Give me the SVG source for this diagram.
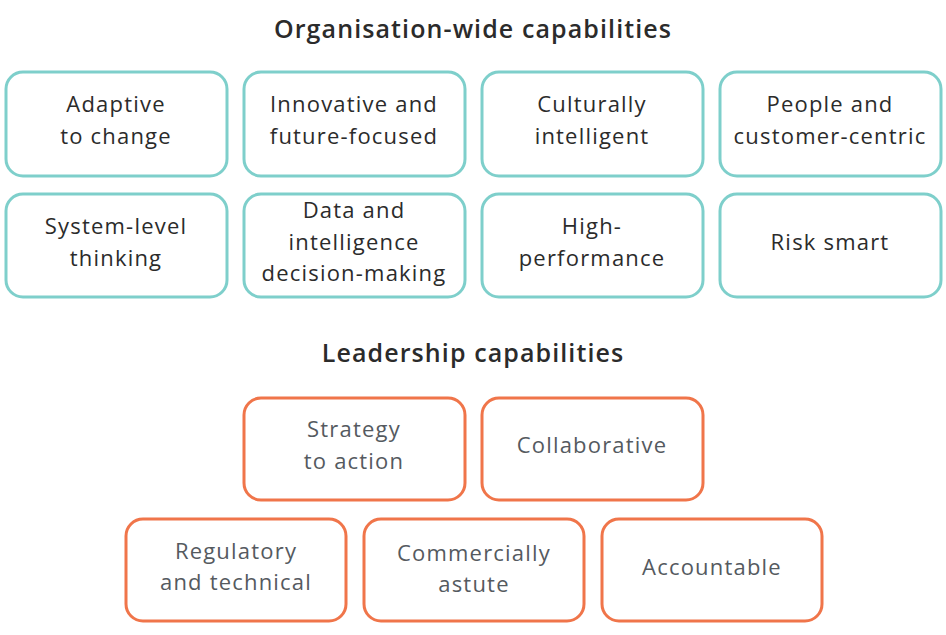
<svg xmlns="http://www.w3.org/2000/svg" width="946" height="635" viewBox="0 0 946 635">
<style>
.t{font-family:"Open Sans","Liberation Sans",sans-serif;font-size:22px;letter-spacing:1.2px;text-anchor:middle}
.h{font-family:"Open Sans","Liberation Sans",sans-serif;font-size:25px;letter-spacing:1.1px;font-weight:600;fill:#2b2b2b;text-anchor:middle}
.org rect{fill:#fff;stroke:#7ECFCB;stroke-width:3}
.org text{fill:#2b2b2b}
.lead rect{fill:#fff;stroke:#F0754A;stroke-width:3}
.lead text{fill:#555a5f}
</style>
<rect width="946" height="635" fill="#fff"/>
<text class="h" x="473" y="38">Organisation-wide capabilities</text>
<text class="h" x="473" y="362">Leadership capabilities</text>
<g class="org">
<g id="n1"><rect x="6" y="72" width="221" height="104" rx="17"/><text class="t" x="116" y="112">Adaptive</text><text class="t" x="116" y="144">to change</text></g>
<g id="n2"><rect x="244" y="72" width="221" height="104" rx="17"/><text class="t" x="354" y="112">Innovative and</text><text class="t" x="354" y="144">future-focused</text></g>
<g id="n3"><rect x="482" y="72" width="221" height="104" rx="17"/><text class="t" x="592" y="112">Culturally</text><text class="t" x="592" y="144">intelligent</text></g>
<g id="n4"><rect x="720" y="72" width="221" height="104" rx="17"/><text class="t" x="830" y="112">People and</text><text class="t" x="830" y="144">customer-centric</text></g>
<g id="n5"><rect x="6" y="194" width="221" height="103" rx="17"/><text class="t" x="116" y="234">System-level</text><text class="t" x="116" y="266">thinking</text></g>
<g id="n6"><rect x="244" y="194" width="221" height="103" rx="17"/><text class="t" x="354" y="218">Data and</text><text class="t" x="354" y="250">intelligence</text><text class="t" x="354" y="281">decision-making</text></g>
<g id="n7"><rect x="482" y="194" width="221" height="103" rx="17"/><text class="t" x="592" y="234">High-</text><text class="t" x="592" y="266">performance</text></g>
<g id="n8"><rect x="720" y="194" width="221" height="103" rx="17"/><text class="t" x="830" y="250">Risk smart</text></g>
</g>
<g class="lead">
<g id="l1"><rect x="244" y="398" width="221" height="102" rx="17"/><text class="t" x="354" y="437">Strategy</text><text class="t" x="354" y="469">to action</text></g>
<g id="l2"><rect x="482" y="398" width="221" height="102" rx="17"/><text class="t" x="592" y="453">Collaborative</text></g>
<g id="l3"><rect x="126" y="519" width="220" height="102" rx="17"/><text class="t" x="236" y="559">Regulatory</text><text class="t" x="236" y="590">and technical</text></g>
<g id="l4"><rect x="364" y="519" width="220" height="102" rx="17"/><text class="t" x="474" y="561">Commercially</text><text class="t" x="474" y="592">astute</text></g>
<g id="l5"><rect x="602" y="519" width="220" height="102" rx="17"/><text class="t" x="712" y="575">Accountable</text></g>
</g>
<g id="connectors"></g>
</svg>
